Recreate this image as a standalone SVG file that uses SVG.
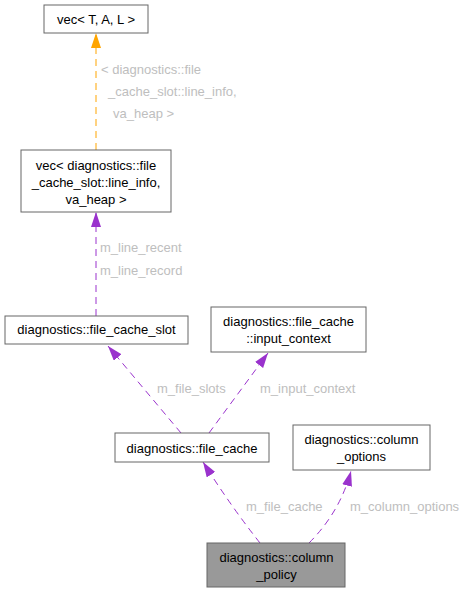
<svg xmlns="http://www.w3.org/2000/svg" width="468" height="593" viewBox="0 0 468 593">
<style>
.n rect{fill:#ffffff;stroke:#666666;stroke-width:1}
.n text{font-family:"Liberation Sans",Arial,sans-serif;font-size:13px;fill:#000000;text-anchor:middle}
#column_policy rect{fill:#999999}
.e{fill:none;stroke-width:1;stroke-dasharray:7,5}
.p{stroke:#9a32cd}
.o{stroke:#ffa500}
.l{font-family:"Liberation Sans",Arial,sans-serif;font-size:13px;fill:#bebebe}
</style>
<defs>
<marker id="ap" markerUnits="userSpaceOnUse" markerWidth="16" markerHeight="11" refX="15" refY="5" orient="auto">
<path d="M0,0 L15,5 L0,10 z" fill="#9a32cd"/>
</marker>
<marker id="ao" markerUnits="userSpaceOnUse" markerWidth="16" markerHeight="11" refX="15" refY="5" orient="auto">
<path d="M0,0 L15,5 L0,10 z" fill="#ffa500"/>
</marker>
</defs>
<rect width="468" height="593" fill="#ffffff"/>
<g id="edges">
<path class="e o" d="M96,150 L96,33" marker-end="url(#ao)"/>
<path class="e p" d="M96,316 L96,212" marker-end="url(#ap)"/>
<path class="e p" d="M181,433 L108,346" marker-end="url(#ap)"/>
<path class="e p" d="M209,433 L268,353" marker-end="url(#ap)"/>
<path class="e p" d="M260,543 Q230,505 203,462" marker-end="url(#ap)"/>
<path class="e p" d="M309,543 Q340,512 351,471" marker-end="url(#ap)"/>
<text class="l" x="101" y="74">&lt; diagnostics::file</text>
<text class="l" x="108" y="96">_cache_slot::line_info,</text>
<text class="l" x="113" y="118">va_heap &gt;</text>
<text class="l" x="100" y="252">m_line_recent</text>
<text class="l" x="100" y="275">m_line_record</text>
<text class="l" x="157" y="393">m_file_slots</text>
<text class="l" x="260" y="393">m_input_context</text>
<text class="l" x="246" y="511">m_file_cache</text>
<text class="l" x="350" y="511">m_column_options</text>
</g>
<g id="vec_tal" class="n">
<rect x="44" y="5" width="104" height="28"/>
<text x="96" y="23.5">vec&lt; T, A, L &gt;</text>
</g>
<g id="vec_line_info" class="n">
<rect x="21" y="150" width="150" height="62"/>
<text x="96" y="169.5">vec&lt; diagnostics::file</text>
<text x="96" y="186.5">_cache_slot::line_info,</text>
<text x="96" y="203.5">va_heap &gt;</text>
</g>
<g id="file_cache_slot" class="n">
<rect x="5" y="316" width="183" height="28"/>
<text x="96.5" y="334">diagnostics::file_cache_slot</text>
</g>
<g id="input_context" class="n">
<rect x="211" y="307" width="155" height="45"/>
<text x="288.5" y="325.5">diagnostics::file_cache</text>
<text x="288.5" y="342.5">::input_context</text>
</g>
<g id="file_cache" class="n">
<rect x="115" y="433" width="154" height="29"/>
<text x="192" y="452.5">diagnostics::file_cache</text>
</g>
<g id="column_options" class="n">
<rect x="293" y="425" width="137" height="45"/>
<text x="361.5" y="443.5">diagnostics::column</text>
<text x="361.5" y="460.5">_options</text>
</g>
<g id="column_policy" class="n">
<rect x="207" y="543" width="138" height="44"/>
<text x="276.5" y="561.5">diagnostics::column</text>
<text x="276.5" y="578.5">_policy</text>
</g>
</svg>
